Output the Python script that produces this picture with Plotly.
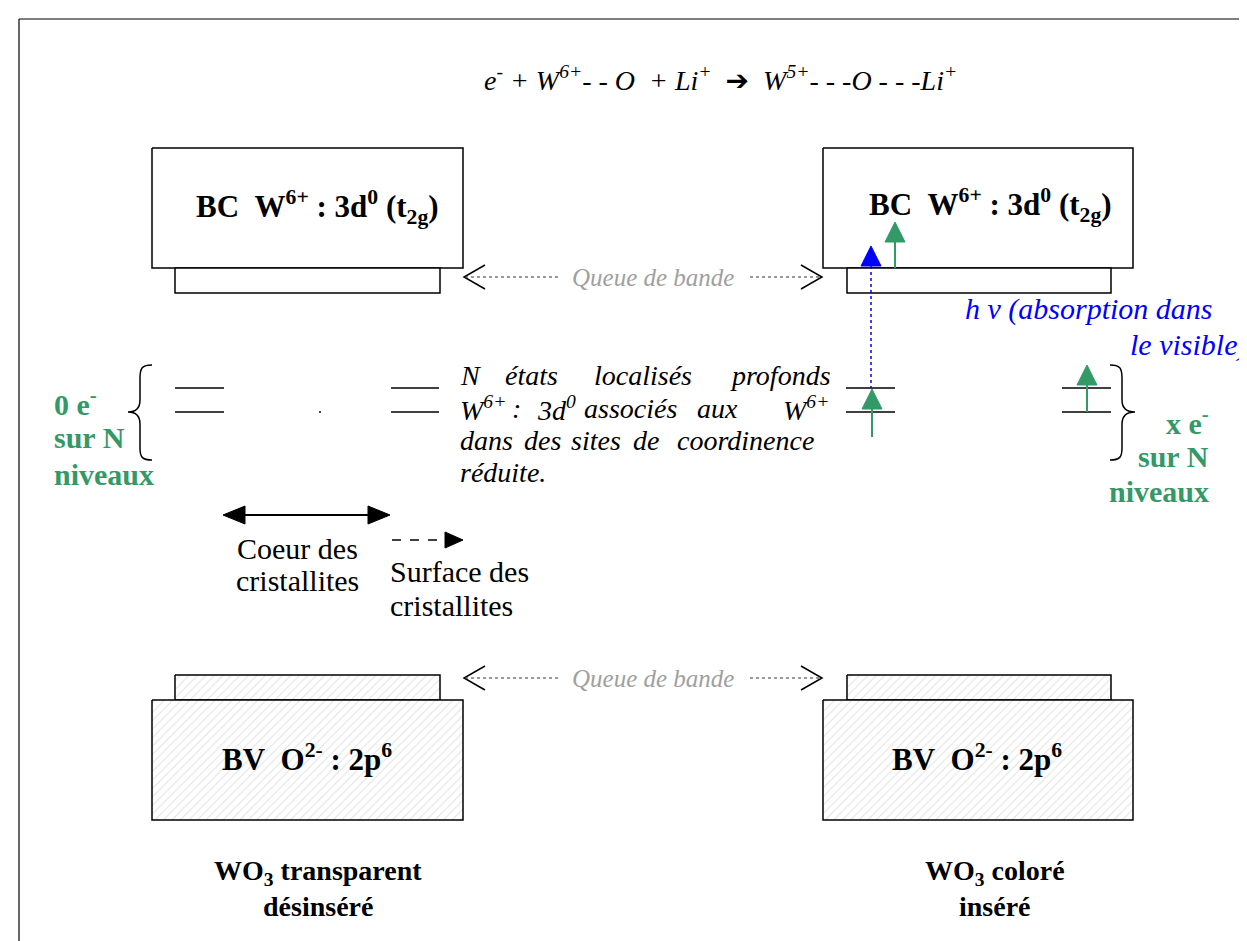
import plotly.graph_objects as go

W, H = 1247, 941
OFF = 8  # page body margin
FONT = "Liberation Serif"
GREEN = "#339966"
BLUE = "#0000FF"
GREY = "#A0A0A0"

# ---- texts ----
equation = ("<i>e<sup>-</sup> + W<sup>6+</sup>- - O\u00a0 + Li<sup>+</sup>\u00a0 </i>"
            "<span style=\"font-family:'DejaVu Sans'\"><b>\u2794</b></span>"
            "<i>\u00a0 W<sup>5+</sup>- - -O - - -Li<sup>+</sup></i>")
bc_label = "<b>BC\u00a0\u00a0W<sup>6+</sup>\u00a0:\u00a03d<sup>0</sup>\u00a0(t<sub>2g</sub>)</b>"
bv_label = "<b>BV\u00a0\u00a0O<sup>2-</sup>\u00a0:\u00a02p<sup>6</sup></b>"
queue_label = "<i>Queue de bande</i>"
left_green = ["0 e<sup>-</sup>", "sur N", "niveaux"]
right_green = ["x e<sup>-</sup>", "sur N", "niveaux"]
hv_lines = ["h\u00a0\u03bd (absorption dans", "le visible)"]
para_words = [
    ["N", "états", "localisés", "profonds"],
    ["W<sup>6+</sup>", ":", "3d<sup>0</sup>", "associés", "aux", "W<sup>6+</sup>"],
    ["dans", "des", "sites", "de", "coordinence"],
    ["réduite."],
]
coeur_label = ["Coeur des", "cristallites"]
surface_label = ["Surface des", "cristallites"]
bottom_labels = [["WO<sub>3</sub> transparent", "désinséré"], ["WO<sub>3</sub> coloré", "inséré"]]

# ---- geometry (pixel space) ----
panel_x = [(152, 463, 175, 440), (823, 1133, 847, 1111)]
para_x = [
    [458, 503, 592, 728],
    [458, 510, 535, 582, 695, 781],
    [458, 522, 569, 631, 675],
    [458],
]
para_y = [375, 408, 440, 472]

fig = go.Figure()
shapes = []
ann = []


def line(x0, y0, x1, y1, color="black", width=1.5, dash="solid"):
    shapes.append(dict(type="line", xref="x", yref="y", x0=x0, y0=y0, x1=x1, y1=y1,
                       line=dict(color=color, width=width, dash=dash)))


def path(d, color="black", width=1.5, fill=None):
    s = dict(type="path", xref="x", yref="y", path=d, line=dict(color=color, width=width))
    if fill:
        s["fillcolor"] = fill
    shapes.append(s)


def tri(xt, yt, xb, yb, half, color):
    if xt == xb:
        d = f"M {xt},{yt} L {xb-half},{yb} L {xb+half},{yb} Z"
    else:
        d = f"M {xt},{yt} L {xb},{yb-half} L {xb},{yb+half} Z"
    path(d, color=color, width=1, fill=color)


def text(x, y, s, size=28, color="black", xa="left", ya="middle"):
    ann.append(dict(x=x, y=y, xref="x", yref="y", text=s, showarrow=False,
                    xanchor=xa, yanchor=ya, font=dict(family=FONT, size=size, color=color)))


def box(x0, y0, x1, y1, hatch=False):
    xs = [x0, x1, x1, x0, x0]
    ys = [y0, y0, y1, y1, y0]
    kw = {}
    if hatch:
        kw["fillpattern"] = dict(shape="/", fgcolor="#c4c4c4", bgcolor="white", size=6, solidity=0.18)
    fig.add_trace(go.Scatter(x=xs, y=ys, mode="lines", fill="toself", fillcolor="white",
                             line=dict(color="black", width=1.5), hoverinfo="skip",
                             showlegend=False, **kw))


# frame
line(19, 19, 19, 960, width=1.2)
line(19, 19, 1260, 19, width=1.2)

# equation
text(720, 79, equation, size=28, xa="center")

# bands
for (bx0, bx1, tx0, tx1) in panel_x:
    box(bx0, 148, bx1, 268)
    box(tx0, 268, tx1, 293)
    box(tx0, 675, tx1, 700, hatch=True)
    box(bx0, 700, bx1, 820, hatch=True)

text(317, 207, bc_label, size=31, xa="center")
text(990, 205, bc_label, size=31, xa="center")
text(307, 757, bv_label, size=31, xa="center")
text(977, 757, bv_label, size=31, xa="center")

# queue de bande
for yq in (277, 678):
    path(f"M 485,{yq-12} L 464,{yq} L 485,{yq+12}", width=1.5)
    path(f"M 801,{yq-12} L 822,{yq} L 801,{yq+12}", width=1.5)
    line(465, yq, 558, yq, color="#333", width=1, dash="dot")
    line(750, yq, 820, yq, color="#333", width=1, dash="dot")
    text(653, yq, queue_label, size=25, color=GREY, xa="center")

# localized levels
for (lx0, lx1) in [(175, 224), (391, 439), (846, 895), (1062, 1111)]:
    line(lx0, 388, lx1, 388, width=1.5)
    line(lx0, 412, lx1, 412, width=1.5)
fig.add_trace(go.Scatter(x=[320], y=[412], mode="markers", marker=dict(size=2, color="black"),
                         hoverinfo="skip", showlegend=False))

# braces
path("M 152,365 C 142,365 140,368 140,378 L 140,400 C 140,408 136,412 128,412 "
     "C 136,412 140,416 140,424 L 140,448 C 140,457 142,460 152,460", width=1.5)
path("M 1110,365 C 1120,365 1122,368 1122,378 L 1122,400 C 1122,408 1126,412 1135,412 "
     "C 1126,412 1122,416 1122,424 L 1122,448 C 1122,457 1120,460 1110,460", width=1.5)

# green labels
for i, s in enumerate(left_green):
    text(52, [402, 437, 474][i], f"<b>{s}</b>", size=30, color=GREEN)
for i, s in enumerate(right_green):
    text(1211, [421, 456, 491][i], f"<b>{s}</b>", size=30, color=GREEN, xa="right")

# arrows in right panel
line(871, 266, 871, 388, color=BLUE, width=1.5, dash="dot")
tri(871, 246, 871, 266, 10, BLUE)
line(895, 268, 895, 241, color=GREEN, width=2)
tri(895, 222, 895, 242, 10, GREEN)
line(872, 437, 872, 408, color=GREEN, width=2)
tri(872, 389, 872, 409, 10, GREEN)
line(1087, 412, 1087, 384, color=GREEN, width=2)
tri(1087, 365, 1087, 385, 10, GREEN)

# hv
text(963, 309, f"<i>{hv_lines[0]}</i>", size=30, color=BLUE)
text(1128, 345, f"<i>{hv_lines[1]}</i>", size=30, color=BLUE)

# paragraph
for words, xs, y in zip(para_words, para_x, para_y):
    for w_, x_ in zip(words, xs):
        text(x_, y, f"<i>{w_}</i>", size=28)

# coeur / surface arrows
line(243, 515, 370, 515, width=2)
tri(223, 515, 245, 515, 9, "black")
tri(390, 515, 368, 515, 9, "black")
line(392, 540, 445, 540, width=1.5, dash="dash")
tri(463, 540, 445, 540, 8, "black")
text(297, 548, coeur_label[0], size=30, xa="center")
text(297, 580, coeur_label[1], size=30, xa="center")
text(388, 571, surface_label[0], size=30)
text(388, 605, surface_label[1], size=30)

# bottom labels
for (cx, labels) in zip([318, 995], bottom_labels):
    text(cx, 872, f"<b>{labels[0]}</b>", size=28, xa="center")
    text(cx, 906, f"<b>{labels[1]}</b>", size=28, xa="center")

fig.update_layout(
    width=W - OFF, height=H - OFF, margin=dict(l=0, r=0, t=0, b=0),
    paper_bgcolor="white", plot_bgcolor="white",
    xaxis=dict(range=[OFF, W], visible=False, fixedrange=True),
    yaxis=dict(range=[H, OFF], visible=False, fixedrange=True),
    shapes=shapes, annotations=ann, showlegend=False,
)
fig.write_html("out.html")
